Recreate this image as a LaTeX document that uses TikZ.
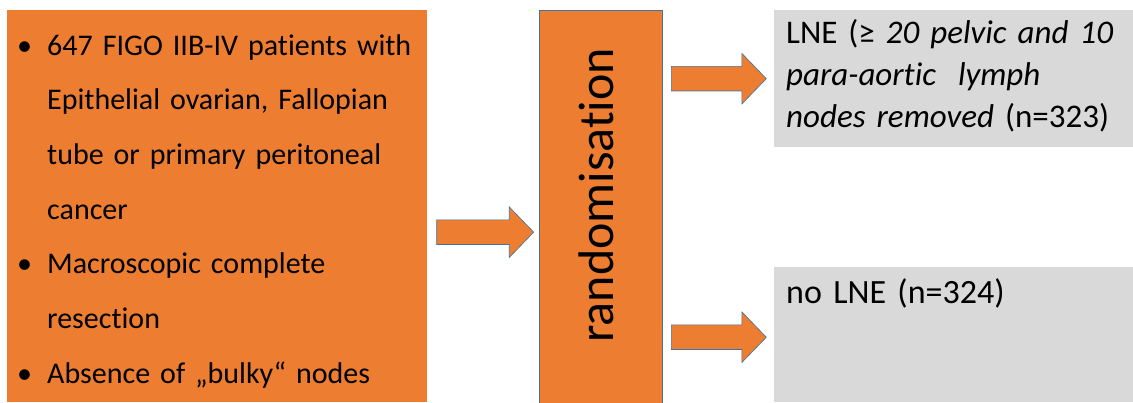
\documentclass[tikz,border=0pt]{standalone}
\usepackage{fontspec}
\setmainfont{Carlito}[Ligatures=NoCommon]
\usetikzlibrary{positioning,shapes.arrows}
\definecolor{boxorange}{HTML}{ED7D31}
\definecolor{boxedge}{HTML}{41719C}
\definecolor{boxgray}{HTML}{D9D9D9}
\newcommand{\bul}{\makebox[30pt][l]{\textbullet}}
\newcommand{\ind}{\hspace*{30pt}}

\begin{document}
\begin{tikzpicture}[
  orangebox/.style={fill=boxorange,inner sep=0pt},
  graybox/.style={fill=boxgray,text width=350pt,inner xsep=12pt,inner ysep=0pt,align=left,anchor=north west},
  blockarrow/.style={single arrow,fill=boxorange,draw=boxedge,line width=0.6pt,inner sep=0pt,
    text height=12pt,text depth=12pt,single arrow head extend=13pt,single arrow tip angle=92,anchor=tail},
  node distance=112pt]
\useasboundingbox (0,0) rectangle (1133pt,-403pt);
% inclusion criteria
\node[orangebox,anchor=north west,text width=400pt,inner xsep=10pt,align=left,
  text height=45pt,text depth=347pt,font=\fontsize{30}{54.7}\selectfont] (crit) at (7pt,-10pt)
  {\bul 647 FIGO IIB-IV patients with\\ \ind Epithelial ovarian, Fallopian\\
   \ind tube or primary peritoneal\\ \ind cancer\\
   \bul Macroscopic complete\\ \ind resection\\
   \bul Absence of „bulky“ nodes};
\node[orangebox,draw=boxedge,line width=0.6pt,anchor=north west,minimum width=123pt,minimum height=394pt]
  (rand) at ([xshift=112pt]crit.north east) {};
\node[rotate=90,inner sep=0pt,font=\fontsize{50}{60}\selectfont] (randlabel)
  at ([xshift=-5pt,yshift=12pt]rand.center) {randomisation};
% trial arms
\node[graybox,text height=33pt,text depth=104pt,font=\fontsize{33}{42}\selectfont] (lne)
  at ([xshift=111pt]rand.north east)
  {LNE (≥ \textit{20 pelvic and 10}\\ \textit{para-aortic\ \ lymph}\\ \textit{nodes removed} (n=323)};
\node[graybox,text height=36pt,text depth=99pt,font=\fontsize{34}{42}\selectfont] (nolne)
  at ([yshift=-257pt]lne.north west) {no LNE (n=324)};
% block arrows
\path ([xshift=9pt,yshift=-26pt]crit.east) node[blockarrow,minimum height=97pt] (arrin) {};
\path (rand.east |- lne.west) ++(8pt,0) node[blockarrow,minimum height=95pt] (arrlne) {};
\path (rand.east |- nolne.west) ++(8pt,-2.5pt) node[blockarrow,minimum height=95pt] (arrnolne) {};
\end{tikzpicture}
\end{document}
